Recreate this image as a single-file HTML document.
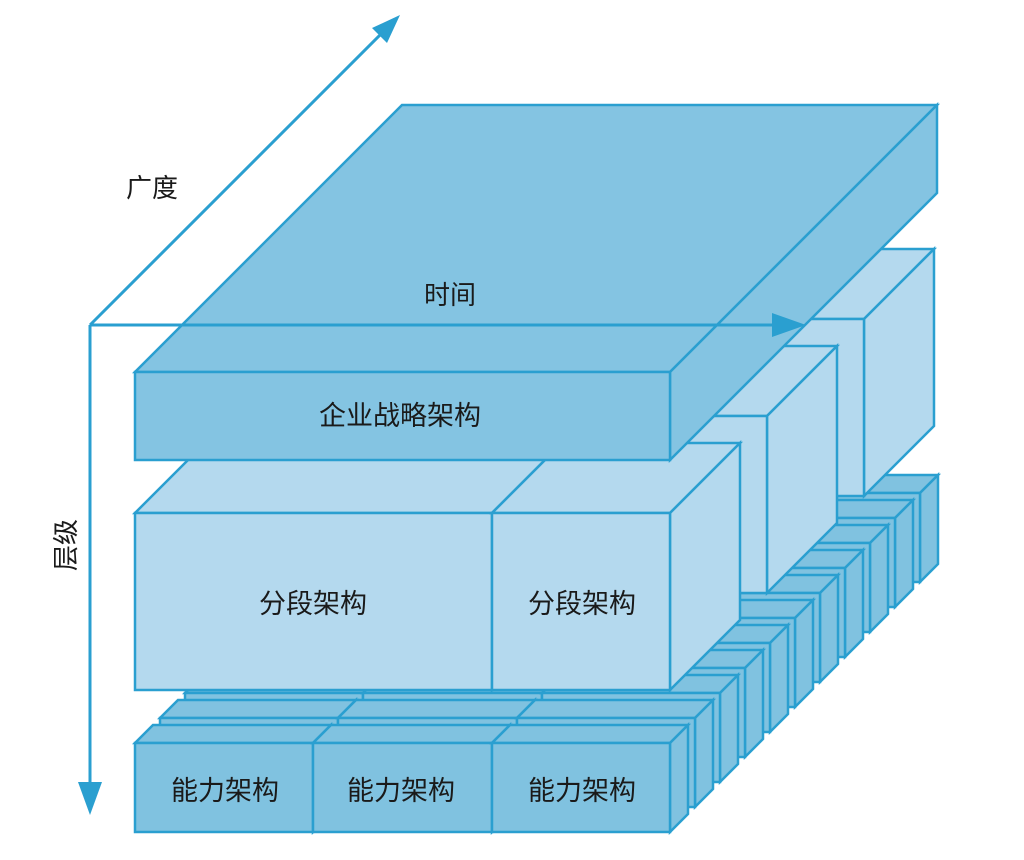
<!DOCTYPE html>
<html><head><meta charset="utf-8"><style>
html,body{margin:0;padding:0;background:#fff;}
svg{display:block;}
text{font-family:"Liberation Sans","Noto Sans CJK SC",sans-serif;fill:#1a1a1a;}
</style></head><body>
<svg id="s" width="1024" height="860" viewBox="0 0 1024 860" xmlns="http://www.w3.org/2000/svg">
<g id="shapes" stroke="#2a9fd0" stroke-width="2.5" stroke-linejoin="miter"></g>
<g id="over">
<line x1="90" y1="325" x2="778" y2="325" stroke="#2a9fd0" stroke-width="3"/>
<polygon points="772,313 806,325 772,337" fill="#2a9fd0"/>
<line x1="90" y1="325" x2="90" y2="790" stroke="#2a9fd0" stroke-width="3"/>
<polygon points="78,782 90,815 102,782" fill="#2a9fd0"/>
<line x1="90" y1="325" x2="385" y2="30" stroke="#2a9fd0" stroke-width="3"/>
<polygon points="372,28 400,15 387,43" fill="#2a9fd0"/>
</g>
<text x="152" y="197" font-size="26" text-anchor="middle">广度</text>
<text x="450" y="304" font-size="26" text-anchor="middle">时间</text>
<text x="0" y="0" font-size="26" text-anchor="middle" transform="translate(75,545) rotate(-90)">层级</text>
<text x="400" y="425" font-size="27" text-anchor="middle">企业战略架构</text>
<text x="313" y="613" font-size="27" text-anchor="middle">分段架构</text>
<text x="582" y="613" font-size="27" text-anchor="middle">分段架构</text>
<text x="225" y="800" font-size="27" text-anchor="middle">能力架构</text>
<text x="401" y="800" font-size="27" text-anchor="middle">能力架构</text>
<text x="582" y="800" font-size="27" text-anchor="middle">能力架构</text>
</svg>
<script>
var g=document.getElementById('shapes');
function poly(pts,fill){var p=document.createElementNS('http://www.w3.org/2000/svg','polygon');p.setAttribute('points',pts.map(function(a){return a[0]+','+a[1]}).join(' '));p.setAttribute('fill',fill);g.appendChild(p);}
function box(x,y,w,h,d,fill){
 poly([[x,y],[x+w,y],[x+w+d,y-d],[x+d,y-d]],fill);
 poly([[x+w,y],[x+w+d,y-d],[x+w+d,y+h-d],[x+w,y+h]],fill);
 poly([[x,y],[x+w,y],[x+w,y+h],[x,y+h]],fill);
}
var capC='#80c2e0', segC='#b4d9ee', slabC='#84c4e2';
var splits=[[135,313],[313,492],[492,670]];
for(var k=10;k>=0;k--){
 var o=25*k;
 for(var i=0;i<3;i++){box(splits[i][0]+o,743-o,splits[i][1]-splits[i][0],89,18,capC);}
}
for(var r=2;r>=0;r--){
 var o=97*r;
 box(135+o,513-o,357,177,70,segC);
 box(492+o,513-o,178,177,70,segC);
}
box(135,372,535,88,267,slabC);
</script>
</body></html>
